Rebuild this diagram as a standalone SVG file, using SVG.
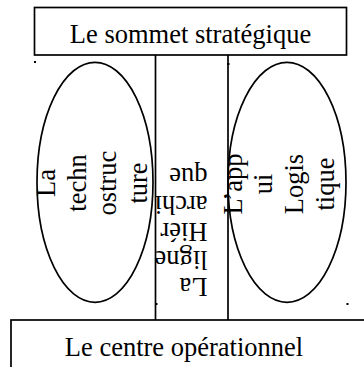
<svg xmlns="http://www.w3.org/2000/svg" width="364" height="367" viewBox="0 0 364 367">
<style>
.box{fill:#fff;stroke:#000;stroke-width:1.7}
.ell{fill:none;stroke:#000;stroke-width:1.7}
.ln{stroke:#000;stroke-width:1.7;fill:none}
.t{font-family:"Liberation Serif","Times New Roman",serif;font-size:26.5px;fill:#000}
.dot{fill:#000}
</style>
<rect width="364" height="367" fill="#fff"/>
<g id="connectors">
<line class="ln" x1="155.5" y1="55" x2="155.5" y2="320"/>
<line class="ln" x1="228" y1="55" x2="228" y2="320"/>
</g>
<g id="sommet">
<rect class="box" x="34.5" y="7.5" width="312" height="47.5"/>
<text class="t" x="190.5" y="42.7" text-anchor="middle">Le sommet stratégique</text>
</g>
<g id="centre">
<rect class="box" x="11" y="320" width="380" height="80"/>
<text class="t" x="184" y="356" text-anchor="middle">Le centre opérationnel</text>
</g>
<g id="technostructure">
<ellipse class="ell" cx="95" cy="182.3" rx="58" ry="120"/>
<text class="t" transform="translate(55,183) rotate(-90)" text-anchor="middle"><tspan x="0" y="0">La</tspan><tspan x="0" dy="30.7">techn</tspan><tspan x="0" dy="30.7">ostruc</tspan><tspan x="0" dy="30.7">ture</tspan></text>
</g>
<g id="logistique">
<ellipse class="ell" cx="287" cy="182.3" rx="59" ry="120"/>
<text class="t" transform="translate(241.5,184) rotate(-90)" text-anchor="middle"><tspan x="0" y="0">L’app</tspan><tspan x="0" dy="30.7">ui</tspan><tspan x="0" dy="30.7">Logis</tspan><tspan x="0" dy="30.7">tique</tspan></text>
</g>
<g id="ligne">
<text class="t" transform="translate(207.5,278) rotate(180)"><tspan x="0" y="0">La</tspan><tspan x="0" dy="27.5">ligne</tspan><tspan x="0" dy="27.5">Hiér</tspan><tspan x="0" dy="27.5">archi</tspan><tspan x="0" dy="27.5">que</tspan></text>
</g>
<g id="marks">
<rect class="dot" x="34" y="61" width="2" height="2"/>
<rect class="dot" x="227" y="63" width="2.5" height="2"/>
<rect class="dot" x="155" y="303" width="2.5" height="2"/>
<rect class="dot" x="346.5" y="303" width="2" height="2"/>
</g>
</svg>
